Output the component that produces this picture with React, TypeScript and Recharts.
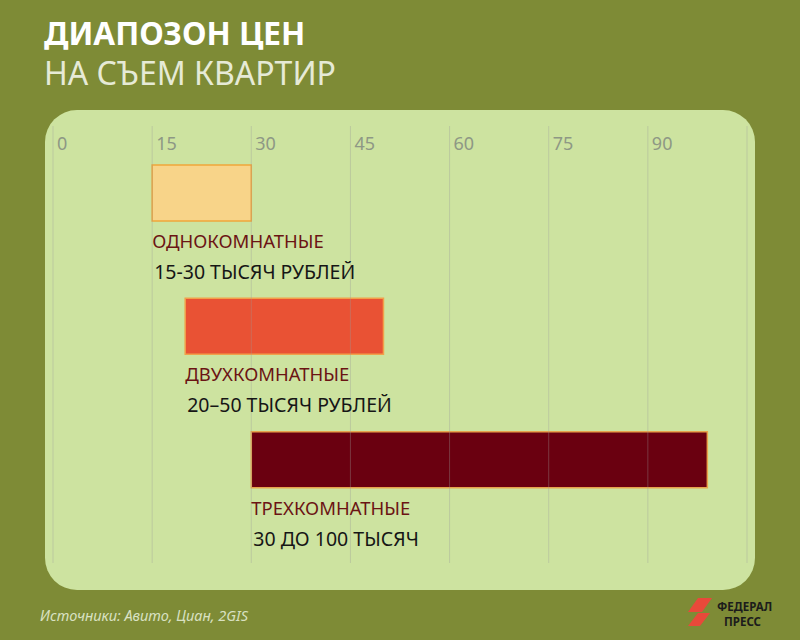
import { BarChart, Bar, XAxis, YAxis, ReferenceLine, Cell, LabelList } from 'recharts'

const categories = ['ОДНОКОМНАТНЫЕ', 'ДВУХКОМНАТНЫЕ', 'ТРЕХКОМНАТНЫЕ']
const priceFrom = [15, 20, 30]
const priceTo = [30, 50, 99]
const priceLabels = ['15-30 ТЫСЯЧ РУБЛЕЙ', '20–50 ТЫСЯЧ РУБЛЕЙ', '30 ДО 100 ТЫСЯЧ']
const xTicks = [0, 15, 30, 45, 60, 75, 90, 105]

const barColors = ['#f8d489', '#e95234', '#6a0010']
const barStrokes = ['#f0a63a', '#f2a04a', '#e7a34c']

const FONT = '"Noto Sans", Roboto, sans-serif'

const chartData = categories.map((name, i) => ({
  name,
  range: [priceFrom[i], priceTo[i]],
  label: priceLabels[i],
}))

const TopTick = ({ x, payload }) => {
  if (payload.value === 105) return <g />
  return (
    <text x={x + 4} y={150} fill="#8e9885" fontSize={18} fontFamily={FONT}>
      {payload.value}
    </text>
  )
}

const BarCaption = ({ x, y, height, index }) => (
  <g>
    <text x={x} y={y + height + 27} fill="#6b1414" fontSize={18.5} fontFamily={FONT}>
      {categories[index]}
    </text>
    <text x={x + 2} y={y + height + 58} fill="#161616" fontSize={19.5} fontFamily={FONT}>
      {priceLabels[index]}
    </text>
  </g>
)

const App = () => {
  return (
    <div style={{ position: 'fixed', left: 0, top: 0, width: 800, height: 640, background: '#7e8b36', overflow: 'hidden', fontFamily: FONT }}>
      <div style={{ position: 'absolute', left: 44, top: 18, color: '#ffffff', fontSize: 31.5, fontWeight: 700, lineHeight: '30px' }}>
        ДИАПОЗОН ЦЕН
      </div>
      <div style={{ position: 'absolute', left: 44, top: 58, color: '#e6ead6', fontSize: 32, fontWeight: 400, lineHeight: '30px' }}>
        НА СЪЕМ КВАРТИР
      </div>

      <div style={{ position: 'absolute', left: 45, top: 110, width: 710, height: 480, borderRadius: 32, background: '#cde3a0' }} />

      <div style={{ position: 'absolute', left: 0, top: 0 }}>
        <BarChart
          width={800}
          height={640}
          data={chartData}
          layout="vertical"
          margin={{ top: 96, right: 53, bottom: 77, left: 53 }}
        >
          <XAxis
            type="number"
            orientation="top"
            domain={[0, 105]}
            ticks={xTicks}
            axisLine={false}
            tickLine={false}
            height={30}
            tick={<TopTick />}
            interval={0}
          />
          <YAxis type="category" dataKey="name" hide padding={{ top: 0, bottom: 37 }} />
          <Bar dataKey="range" barSize={56} strokeWidth={1.5} isAnimationActive={false}>
            {chartData.map((d, i) => (
              <Cell key={d.name} fill={barColors[i]} stroke={barStrokes[i]} />
            ))}
            <LabelList dataKey="label" content={<BarCaption />} />
          </Bar>
          {xTicks.map((t) => (
            <ReferenceLine key={t} x={t} stroke="#9a9a9a" strokeOpacity={0.35} />
          ))}
        </BarChart>
      </div>

      <div style={{ position: 'absolute', left: 40, top: 605, color: '#d9e1c2', fontSize: 14.5, fontStyle: 'italic' }}>
        Источники: Авито, Циан, 2GIS
      </div>

      <svg style={{ position: 'absolute', left: 686, top: 596 }} width={100} height={36}>
        <polygon points="12,2 26,2 16,16 2,16" fill="#e8493a" />
        <polygon points="12,17 24,17 14,30 2,30" fill="#e8493a" />
        <text x={31} y={15} fill="#1c1c1c" fontSize={11.5} fontWeight={700} fontFamily={FONT}>ФЕДЕРАЛ</text>
        <text x={38} y={30} fill="#1c1c1c" fontSize={11.5} fontWeight={700} fontFamily={FONT}>ПРЕСС</text>
      </svg>
    </div>
  )
}

export default App
